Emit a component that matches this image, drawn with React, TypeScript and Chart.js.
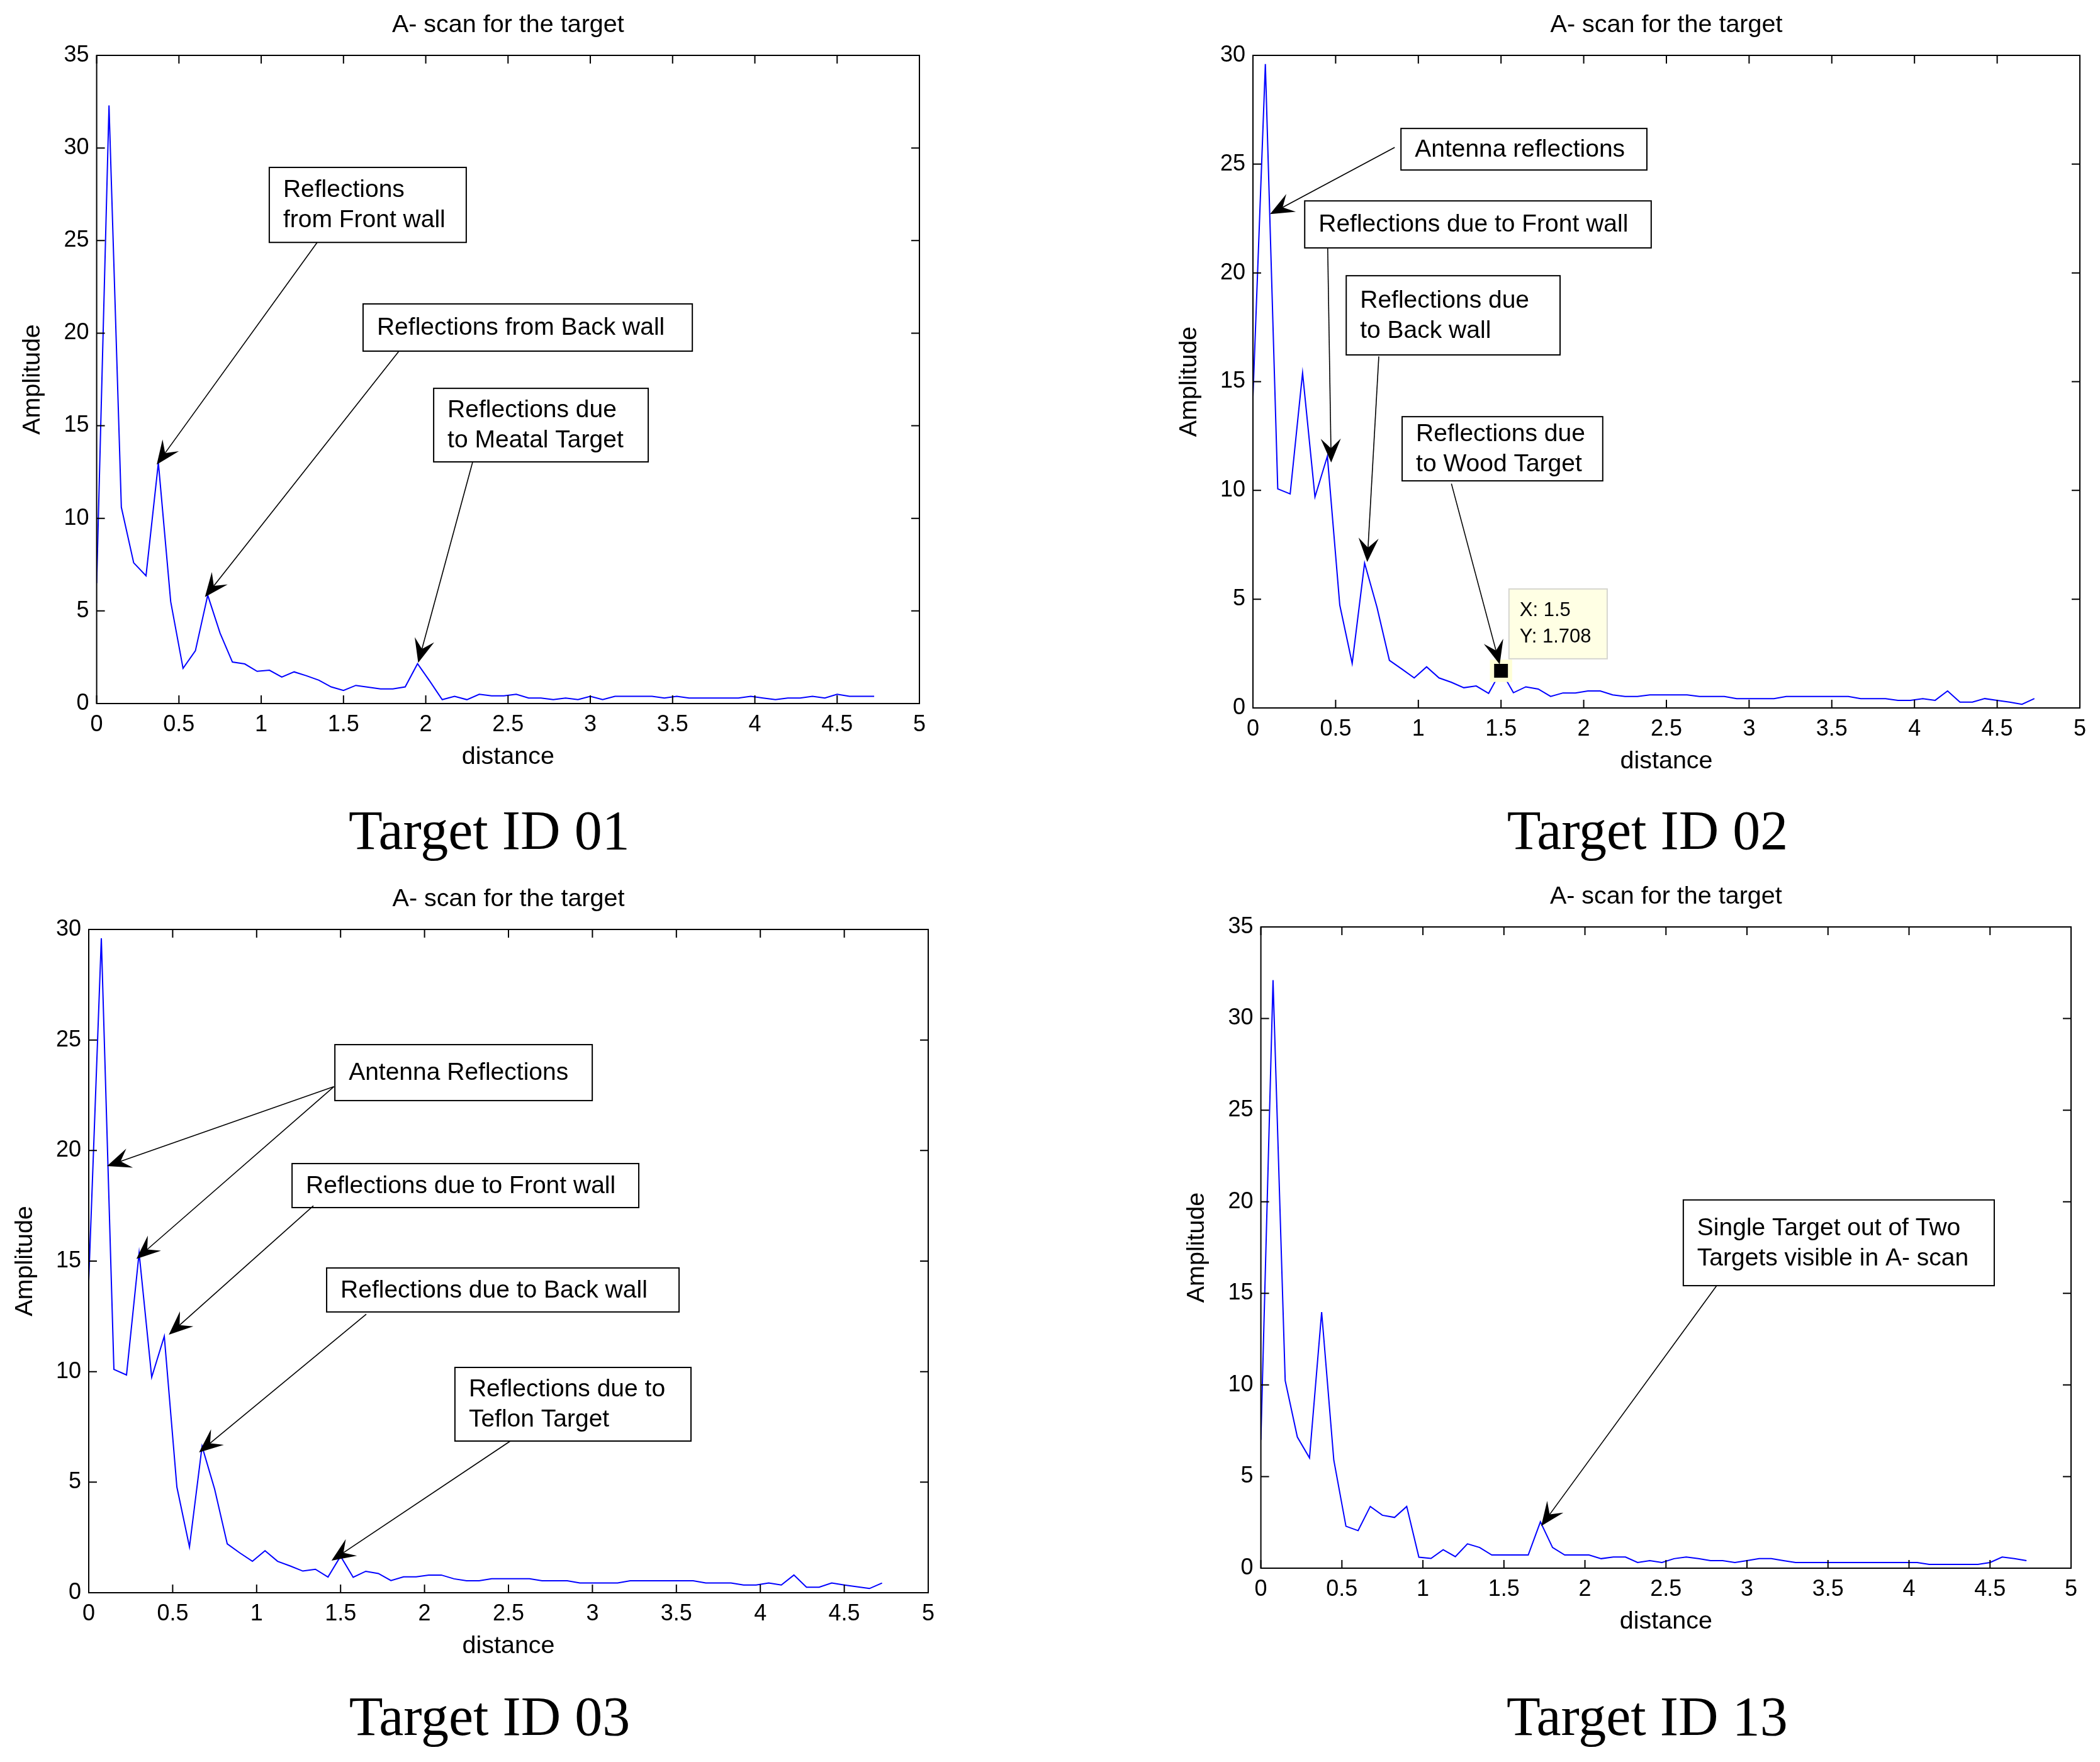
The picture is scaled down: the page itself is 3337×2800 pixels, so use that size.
import React, { useEffect, useRef } from "react";
import { Chart, registerables } from "chart.js";

Chart.register(...registerables);

// ---------------- DATA ----------------
const distance = [
  0, 0.075, 0.15, 0.225, 0.3, 0.375, 0.45, 0.525, 0.6, 0.675, 0.75, 0.825, 0.9, 0.975, 1.05, 1.125,
  1.2, 1.275, 1.35, 1.425, 1.5, 1.575, 1.65, 1.725, 1.8, 1.875, 1.95, 2.025, 2.1, 2.175, 2.25, 2.325,
  2.4, 2.475, 2.55, 2.625, 2.7, 2.775, 2.85, 2.925, 3.0, 3.075, 3.15, 3.225, 3.3, 3.375, 3.45, 3.525,
  3.6, 3.675, 3.75, 3.825, 3.9, 3.975, 4.05, 4.125, 4.2, 4.275, 4.35, 4.425, 4.5, 4.575, 4.65, 4.725,
];

const amplitudeTarget01 = [
  6.5, 32.3, 10.6, 7.6, 6.9, 13.0, 5.5, 1.9, 2.85, 5.85, 3.8, 2.24, 2.14, 1.74, 1.8, 1.43,
  1.71, 1.5, 1.26, 0.9, 0.71, 0.98, 0.88, 0.79, 0.79, 0.9, 2.15, 1.2, 0.21, 0.39, 0.21, 0.5,
  0.42, 0.42, 0.5, 0.3, 0.3, 0.21, 0.3, 0.21, 0.39, 0.21, 0.39, 0.39, 0.39, 0.39, 0.3, 0.39,
  0.3, 0.3, 0.3, 0.3, 0.3, 0.39, 0.3, 0.21, 0.3, 0.3, 0.39, 0.3, 0.5, 0.39, 0.39, 0.39,
];

const amplitudeTarget02 = [
  14.3, 29.6, 10.07, 9.84, 15.4, 9.7, 11.57, 4.73, 2.05, 6.66, 4.63, 2.19, 1.79, 1.38, 1.89, 1.38,
  1.18, 0.93, 1.01, 0.67, 1.708, 0.7, 0.97, 0.87, 0.53, 0.69, 0.69, 0.78, 0.78, 0.6, 0.53, 0.53,
  0.6, 0.6, 0.6, 0.6, 0.53, 0.53, 0.53, 0.43, 0.43, 0.43, 0.43, 0.53, 0.53, 0.53, 0.53, 0.53,
  0.53, 0.43, 0.43, 0.43, 0.35, 0.35, 0.43, 0.35, 0.78, 0.27, 0.27, 0.43, 0.35, 0.27, 0.17, 0.43,
];

const amplitudeTarget03 = [
  14.1, 29.6, 10.1, 9.85, 15.37, 9.75, 11.6, 4.78, 2.07, 6.62, 4.68, 2.21, 1.8, 1.42, 1.9, 1.42,
  1.21, 0.98, 1.06, 0.71, 1.65, 0.7, 0.97, 0.87, 0.55, 0.72, 0.72, 0.8, 0.8, 0.63, 0.54, 0.54,
  0.63, 0.63, 0.63, 0.63, 0.54, 0.54, 0.54, 0.44, 0.44, 0.44, 0.44, 0.54, 0.54, 0.54, 0.54, 0.54,
  0.54, 0.44, 0.44, 0.44, 0.35, 0.35, 0.44, 0.35, 0.8, 0.25, 0.25, 0.44, 0.35, 0.27, 0.19, 0.44,
];

const amplitudeTarget13 = [
  7.0, 32.1, 10.24, 7.16, 6.02, 13.98, 5.9, 2.29, 2.05, 3.37, 2.89, 2.77, 3.37, 0.6, 0.53, 1.01,
  0.63, 1.33, 1.13, 0.72, 0.72, 0.72, 0.72, 2.53, 1.13, 0.72, 0.72, 0.72, 0.52, 0.61, 0.61, 0.31,
  0.41, 0.31, 0.52, 0.61, 0.52, 0.41, 0.41, 0.31, 0.41, 0.52, 0.52, 0.41, 0.31, 0.31, 0.31, 0.31,
  0.31, 0.31, 0.31, 0.31, 0.31, 0.31, 0.31, 0.21, 0.21, 0.21, 0.21, 0.21, 0.31, 0.61, 0.52, 0.41,
];

const datatipX = [1.5];
const datatipY = [1.708];
const datatipLines = ["X: 1.5", "Y: 1.708"];

const xTickStep = 0.5;
const yTickStep = 5;
const plotTitle = "A- scan for the target";
const xAxisLabel = "distance";
const yAxisLabel = "Amplitude";

// ---------------- STYLE / LAYOUT ----------------
const SANS = "'Liberation Sans', Arial, Helvetica, sans-serif";
const SERIF = "'Liberation Serif', 'Times New Roman', serif";
const YW = 120;
const XH = 60;

type Ann = {
  box: [number, number, number, number]; // x0, yTop, x1, yBottom (data units)
  lines: string[];
  arrows: { from: [number, number]; to: [number, number] }[];
};

type Spec = {
  key: string;
  ox: number; oy: number; w: number; h: number;
  area: { l: number; t: number; r: number; b: number };
  yMax: number;
  values: number[];
  caption: string;
  captionY: number;
  annotations: Ann[];
  datatip?: boolean;
};

const specs: Spec[] = [
  {
    key: "p1", ox: 0, oy: 0, w: 1668, h: 1400,
    area: { l: 153.6, t: 88, r: 1461, b: 1118 },
    yMax: 35, values: amplitudeTarget01, caption: "Target ID 01", captionY: 1326,
    annotations: [
      { box: [1.049, 28.95, 2.246, 24.9], lines: ["Reflections", "from Front wall"], arrows: [{ from: [1.34, 24.9], to: [0.365, 12.9] }] },
      { box: [1.619, 21.58, 3.62, 19.03], lines: ["Reflections from Back wall"], arrows: [{ from: [1.837, 19.03], to: [0.658, 5.75] }] },
      { box: [2.048, 17.02, 3.352, 13.05], lines: ["Reflections due", "to Meatal Target"], arrows: [{ from: [2.285, 13.05], to: [1.954, 2.2] }] },
    ],
  },
  {
    key: "p2", ox: 1668, oy: 0, w: 1669, h: 1400,
    area: { l: 1991, t: 88, r: 3305, b: 1125 },
    yMax: 30, values: amplitudeTarget02, caption: "Target ID 02", captionY: 1326, datatip: true,
    annotations: [
      { box: [0.895, 26.64, 2.382, 24.73], lines: ["Antenna reflections"], arrows: [{ from: [0.857, 25.77], to: [0.103, 22.7] }] },
      { box: [0.313, 23.31, 2.408, 21.15], lines: ["Reflections due to Front wall"], arrows: [{ from: [0.452, 21.12], to: [0.473, 11.28] }] },
      { box: [0.564, 19.87, 1.857, 16.23], lines: ["Reflections due", "to Back wall"], arrows: [{ from: [0.761, 16.16], to: [0.691, 6.71] }] },
      { box: [0.902, 13.39, 2.115, 10.44], lines: ["Reflections due", "to Wood Target"], arrows: [{ from: [1.2, 10.31], to: [1.492, 2.0] }] },
    ],
  },
  {
    key: "p3", ox: 0, oy: 1400, w: 1668, h: 1400,
    area: { l: 141, t: 1477, r: 1475, b: 2531 },
    yMax: 30, values: amplitudeTarget03, caption: "Target ID 03", captionY: 2734,
    annotations: [
      { box: [1.466, 24.79, 2.999, 22.26], lines: ["Antenna Reflections"], arrows: [{ from: [1.46, 22.89], to: [0.109, 19.3] }, { from: [1.46, 22.89], to: [0.284, 15.1] }] },
      { box: [1.211, 19.41, 3.276, 17.42], lines: ["Reflections due to Front wall"], arrows: [{ from: [1.338, 17.5], to: [0.477, 11.67] }] },
      { box: [1.417, 14.69, 3.516, 12.7], lines: ["Reflections due to Back wall"], arrows: [{ from: [1.653, 12.6], to: [0.657, 6.35] }] },
      { box: [2.181, 10.19, 3.587, 6.86], lines: ["Reflections due to", "Teflon Target"], arrows: [{ from: [2.511, 6.86], to: [1.446, 1.45] }] },
    ],
  },
  {
    key: "p4", ox: 1668, oy: 1400, w: 1669, h: 1400,
    area: { l: 2003.6, t: 1473, r: 3291, b: 2492 },
    yMax: 35, values: amplitudeTarget13, caption: "Target ID 13", captionY: 2734,
    annotations: [
      { box: [2.607, 20.1, 4.526, 15.42], lines: ["Single Target out of Two", "Targets visible in A- scan"], arrows: [{ from: [2.813, 15.42], to: [1.73, 2.3] }] },
    ],
  },
];

function drawArrow(ctx: CanvasRenderingContext2D, x1: number, y1: number, x2: number, y2: number) {
  const dx = x2 - x1, dy = y2 - y1;
  const len = Math.hypot(dx, dy);
  const ux = dx / len, uy = dy / len;
  const nx = -uy, ny = ux;
  const L = 38, W = 32, notch = 0.6;
  ctx.beginPath();
  ctx.moveTo(x1, y1);
  ctx.lineTo(x2 - ux * L * notch, y2 - uy * L * notch);
  ctx.stroke();
  ctx.beginPath();
  ctx.moveTo(x2, y2);
  ctx.lineTo(x2 - ux * L + nx * W / 2, y2 - uy * L + ny * W / 2);
  ctx.lineTo(x2 - ux * L * notch, y2 - uy * L * notch);
  ctx.lineTo(x2 - ux * L - nx * W / 2, y2 - uy * L - ny * W / 2);
  ctx.closePath();
  ctx.fill();
}

function formatTick(v: number | string) {
  const n = Number(v);
  return String(Math.round(n * 100) / 100);
}

function makeDecor(spec: Spec) {
  return {
    id: "decor_" + spec.key,
    afterDatasetsDraw(chart: any) {
      const ctx: CanvasRenderingContext2D = chart.ctx;
      const a = chart.chartArea;
      const xs = chart.scales.x;
      const ys = chart.scales.y;
      ctx.save();
      // axes box
      ctx.strokeStyle = "#000";
      ctx.lineWidth = 2;
      ctx.strokeRect(a.left, a.top, a.right - a.left, a.bottom - a.top);
      // inward ticks on all sides
      const TL = 13;
      ctx.beginPath();
      xs.ticks.forEach((t: any) => {
        const p = xs.getPixelForValue(t.value);
        ctx.moveTo(p, a.bottom); ctx.lineTo(p, a.bottom - TL);
        ctx.moveTo(p, a.top); ctx.lineTo(p, a.top + TL);
      });
      ys.ticks.forEach((t: any) => {
        const p = ys.getPixelForValue(t.value);
        ctx.moveTo(a.left, p); ctx.lineTo(a.left + TL, p);
        ctx.moveTo(a.right, p); ctx.lineTo(a.right - TL, p);
      });
      ctx.stroke();

      const cx = (a.left + a.right) / 2;
      ctx.fillStyle = "#000";
      ctx.font = `39.5px ${SANS}`;
      ctx.textAlign = "center";
      ctx.textBaseline = "middle";
      ctx.fillText(plotTitle, cx, a.top - 48);
      ctx.fillText(xAxisLabel, cx, a.bottom + 85);
      ctx.save();
      ctx.translate(a.left - 101, (a.top + a.bottom) / 2);
      ctx.rotate(-Math.PI / 2);
      ctx.fillText(yAxisLabel, 0, 0);
      ctx.restore();

      // caption
      ctx.font = `88px ${SERIF}`;
      ctx.fillText(spec.caption, cx - 30, spec.captionY - spec.oy);

      // annotations
      ctx.textAlign = "left";
      ctx.font = `39px ${SANS}`;
      spec.annotations.forEach((an) => {
        const x0 = xs.getPixelForValue(an.box[0]);
        const y0 = ys.getPixelForValue(an.box[1]);
        const x1 = xs.getPixelForValue(an.box[2]);
        const y1 = ys.getPixelForValue(an.box[3]);
        ctx.fillStyle = "#fff";
        ctx.fillRect(x0, y0, x1 - x0, y1 - y0);
        ctx.strokeStyle = "#000";
        ctx.lineWidth = 2;
        ctx.strokeRect(x0, y0, x1 - x0, y1 - y0);
        ctx.fillStyle = "#000";
        const mid = (y0 + y1) / 2;
        const n = an.lines.length;
        an.lines.forEach((ln, i) => {
          const yy = mid + (i - (n - 1) / 2) * 48;
          ctx.fillText(ln, x0 + 22, yy + 1);
        });
        ctx.lineWidth = 1.6;
        an.arrows.forEach((ar) => {
          drawArrow(
            ctx,
            xs.getPixelForValue(ar.from[0]), ys.getPixelForValue(ar.from[1]),
            xs.getPixelForValue(ar.to[0]), ys.getPixelForValue(ar.to[1])
          );
        });
      });

      // data tip box
      if (spec.datatip) {
        const bx0 = xs.getPixelForValue(1.548);
        const by0 = ys.getPixelForValue(5.47);
        const bx1 = xs.getPixelForValue(2.142);
        const by1 = ys.getPixelForValue(2.26);
        ctx.fillStyle = "#ffffe4";
        ctx.fillRect(bx0, by0, bx1 - bx0, by1 - by0);
        ctx.strokeStyle = "#d6d6d0";
        ctx.lineWidth = 2;
        ctx.strokeRect(bx0, by0, bx1 - bx0, by1 - by0);
        ctx.fillStyle = "#000";
        ctx.font = `31px ${SANS}`;
        const mid = (by0 + by1) / 2;
        ctx.fillText(datatipLines[0], bx0 + 17, mid - 21);
        ctx.fillText(datatipLines[1], bx0 + 17, mid + 21);
      }
      ctx.restore();
    },
  };
}

function buildConfig(spec: Spec): any {
  const datasets: any[] = [
    {
      data: distance.map((x, i) => ({ x, y: spec.values[i] })),
      borderColor: "#0000ff",
      borderWidth: 2,
      pointRadius: 0,
      fill: false,
      tension: 0,
      order: 2,
    },
  ];
  if (spec.datatip) {
    datasets.push({
      data: datatipX.map((x, i) => ({ x, y: datatipY[i] })),
      showLine: false,
      pointStyle: "rect",
      pointRadius: 25,
      backgroundColor: "#ffffd6",
      borderWidth: 0,
      clip: false,
      order: 1,
    });
    datasets.push({
      data: datatipX.map((x, i) => ({ x, y: datatipY[i] })),
      showLine: false,
      pointStyle: "rect",
      pointRadius: 15.5,
      backgroundColor: "#000",
      borderWidth: 0,
      clip: false,
      order: 0,
    });
  }
  const pad = {
    left: spec.area.l - spec.ox - YW,
    top: spec.area.t - spec.oy,
    right: spec.ox + spec.w - spec.area.r,
    bottom: spec.oy + spec.h - spec.area.b - XH,
  };
  const tickFont = { family: SANS, size: 36 };
  return {
    type: "line",
    data: { datasets },
    options: {
      responsive: false,
      animation: false,
      devicePixelRatio: 1,
      events: [],
      layout: { padding: pad },
      plugins: { legend: { display: false }, tooltip: { enabled: false }, title: { display: false } },
      scales: {
        x: {
          type: "linear",
          min: 0,
          max: 5,
          afterFit: (s: any) => { s.height = XH; },
          grid: { display: false, drawTicks: false },
          border: { display: false },
          ticks: { stepSize: xTickStep, autoSkip: false, maxRotation: 0, minRotation: 0, padding: 12, color: "#000", font: tickFont, callback: formatTick },
        },
        y: {
          type: "linear",
          min: 0,
          max: spec.yMax,
          afterFit: (s: any) => { s.width = YW; },
          grid: { display: false, drawTicks: false },
          border: { display: false },
          ticks: { stepSize: yTickStep, autoSkip: false, padding: 12, color: "#000", font: tickFont, callback: formatTick },
        },
      },
    },
    plugins: [makeDecor(spec)],
  };
}

function Plot({ spec }: { spec: Spec }) {
  const ref = useRef<HTMLCanvasElement>(null);
  useEffect(() => {
    const canvas = ref.current;
    if (!canvas) return;
    const chart = new Chart(canvas, buildConfig(spec));
    return () => chart.destroy();
  }, [spec]);
  return (
    <canvas
      ref={ref}
      width={spec.w}
      height={spec.h}
      style={{ position: "absolute", left: spec.ox, top: spec.oy, width: spec.w, height: spec.h }}
    />
  );
}

export default function App() {
  return (
    <div style={{ position: "absolute", left: 0, top: 0, width: 3337, height: 2800, background: "#fff", overflow: "hidden" }}>
      {specs.map((s) => (
        <Plot key={s.key} spec={s} />
      ))}
    </div>
  );
}
